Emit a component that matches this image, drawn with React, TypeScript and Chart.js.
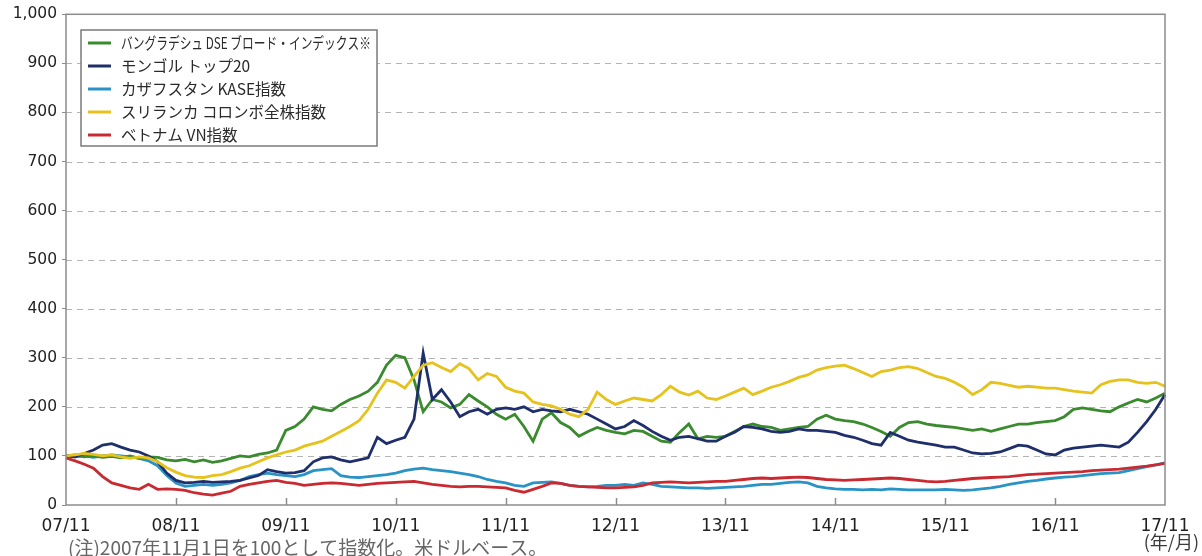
import React, { useEffect, useRef } from "react";
import { Chart, registerables } from "chart.js";

Chart.register(...registerables);

// Year tick labels (one tick every 12 months, Nov 2007 .. Nov 2017)
const yearLabels = ["07/11", "08/11", "09/11", "10/11", "11/11", "12/11", "13/11", "14/11", "15/11", "16/11", "17/11"];

// Series names
const seriesNames = [
  "バングラデシュ DSE ブロード・インデックス※",
  "モンゴル トップ20",
  "カザフスタン KASE指数",
  "スリランカ コロンボ全株指数",
  "ベトナム VN指数",
];

// Monthly index values (2007/11/01 = 100, USD basis)
const bangladesh = [
  100, 102, 98, 100, 97, 99, 96, 100, 95, 98, 97, 92,
  90, 93, 88, 92, 87, 90, 95, 100, 98, 103, 106, 112,
  152, 160, 175, 200, 195, 192, 205, 215, 222, 232, 250, 285,
  305, 300, 255, 190, 215, 210, 198, 205, 225, 212, 200, 185,
  175, 185, 160, 130, 175, 188, 168, 158, 140, 150, 158, 152,
  148, 145, 152, 150, 140, 130, 128, 148, 165, 135, 140, 138,
  140, 150, 160, 165, 160, 158, 152, 155, 158, 160, 175, 183,
  175, 172, 170, 165, 158, 150, 140, 158, 168, 170, 165, 162,
  160, 158, 155, 152, 155, 150, 155, 160, 165, 165, 168, 170,
  172, 180, 195, 198, 195, 192, 190, 200, 208, 215, 210, 218,
  228,
];
const mongolia = [
  100, 98, 105, 112, 122, 125, 118, 112, 108, 100, 88, 65,
  50, 45, 46, 48, 46, 47, 48, 50, 55, 60, 72, 68,
  65, 66, 70, 88, 96, 98, 92, 88, 92, 96, 138, 125,
  132, 138, 175, 310, 215, 235, 210, 180, 190, 195, 185, 195,
  198, 195, 200, 190, 195, 192, 190, 195, 190, 185, 175, 165,
  155, 160, 172, 162, 150, 140, 132, 138, 140, 135, 130, 130,
  140, 148, 160, 158, 155, 150, 148, 150, 155, 152, 152, 150,
  148, 142, 138, 132, 125, 122, 148, 140, 132, 128, 125, 122,
  118, 118, 112, 106, 104, 105, 108, 115, 122, 120, 112, 104,
  102, 112, 116, 118, 120, 122, 120, 118, 128, 148, 170, 195,
  225,
];
const kazakhstan = [
  100, 98, 100, 97, 100, 102, 100, 98, 95, 90, 80, 60,
  45, 38, 40, 42, 40, 42, 45, 50, 58, 62, 65, 62,
  60, 58, 62, 70, 72, 74, 60, 57, 56, 58, 60, 62,
  65, 70, 73, 75, 72, 70, 68, 65, 62, 58, 52, 48,
  45, 40, 38, 45, 46, 47, 44, 40, 38, 37, 38, 40,
  40, 42, 40, 45, 42, 38, 37, 36, 35, 35, 34, 35,
  36, 37, 38, 40, 42, 42, 44, 46, 47, 45, 38, 35,
  33, 32, 32, 31, 32, 31, 33, 32, 31, 31, 31, 31,
  32, 31, 30, 31, 33, 35, 38, 42, 45, 48, 50, 53,
  55, 57, 58, 60, 62, 64, 65, 66, 70, 74, 78, 82,
  86,
];
const sriLanka = [
  100, 102, 105, 103, 100, 102, 98, 95, 98, 96, 88, 76,
  67, 60, 57, 56, 60, 62, 68, 75, 80, 88, 96, 102,
  108, 112, 120, 125, 130, 140, 150, 160, 172, 195, 228, 255,
  250, 238, 262, 285, 290, 280, 272, 288, 278, 255, 268, 262,
  240, 232, 228, 210, 205, 202, 195, 185, 180, 195, 230, 215,
  205, 212, 218, 215, 212, 225, 242, 230, 224, 232, 218, 215,
  222, 230, 238, 225, 232, 240, 245, 252, 260, 265, 275, 280,
  283, 285, 278, 270, 262, 272, 275, 280, 282, 278, 270, 262,
  258, 250, 240, 225, 235, 250, 248, 244, 240, 242, 240, 238,
  238, 235, 232, 230, 228, 245, 252, 255, 255, 250, 248, 250,
  242,
];
const vietnam = [
  96, 90, 83, 75, 58, 45, 40, 35, 32, 42, 32, 33,
  32, 30, 25, 22, 20, 24, 28, 38, 42, 45, 48, 50,
  46, 44, 40, 42, 44, 45, 44, 42, 40, 42, 44, 45,
  46, 47, 48, 45, 42, 40, 38, 37, 38, 38, 37, 36,
  35, 30, 26, 32, 38, 45, 44, 40, 38, 37, 36, 35,
  35, 36, 37, 40, 45, 46, 47, 46, 45, 46, 47, 48,
  48, 50, 52, 54, 55, 54, 55, 56, 57, 56, 54, 52,
  51, 50, 51, 52, 53, 54, 55, 54, 52, 50, 48, 47,
  48, 50, 52, 54, 55, 56, 57, 58, 60, 62, 63, 64,
  65, 66, 67, 68, 70, 71, 72, 73, 75, 77, 79, 82,
  85,
];

const seriesColors = ["#3a8a2e", "#1f2f6b", "#2a93c6", "#e6c21c", "#c92a31"];

const noteText = "(注)2007年11月1日を100として指数化。米ドルベース。";
const unitText = "(年/月)";

// Monthly category labels derived from the year labels
const categories: string[] = [];
yearLabels.forEach((yl, i) => {
  const yy = parseInt(yl.slice(0, 2), 10);
  if (i === yearLabels.length - 1) {
    categories.push(yl);
    return;
  }
  for (let k = 0; k < 12; k++) {
    const mm = ((10 + k) % 12) + 1;
    const y2 = mm < 11 ? yy + 1 : yy;
    categories.push(`${String(y2).padStart(2, "0")}/${String(mm).padStart(2, "0")}`);
  }
});

const gridPlugin = {
  id: "gridPlugin",
  beforeDatasetsDraw(chart: any) {
    const { ctx, chartArea: a, scales } = chart;
    const ys = scales.y;
    ctx.save();
    ctx.strokeStyle = "#b4b4b4";
    ctx.lineWidth = 1;
    ctx.setLineDash([6, 5]);
    ys.ticks.forEach((t: any) => {
      if (t.value <= ys.min || t.value >= ys.max) return;
      const py = Math.round(ys.getPixelForValue(t.value)) + 0.5;
      ctx.beginPath();
      ctx.moveTo(a.left, py);
      ctx.lineTo(a.right, py);
      ctx.stroke();
    });
    ctx.restore();
  },
};

const framePlugin = {
  id: "framePlugin",
  afterDatasetsDraw(chart: any) {
    const { ctx, chartArea: a, scales } = chart;
    ctx.save();
    // plot frame
    ctx.strokeStyle = "#8c8c8c";
    ctx.lineWidth = 1.5;
    ctx.setLineDash([]);
    ctx.strokeRect(a.left, a.top, a.right - a.left, a.bottom - a.top);
    // inner tick marks at each year
    const xs = scales.x;
    yearLabels.forEach((_, i) => {
      if (i === 0 || i === yearLabels.length - 1) return;
      const px = Math.round(xs.getPixelForValue(i * 12)) + 0.5;
      ctx.beginPath();
      ctx.moveTo(px, a.bottom);
      ctx.lineTo(px, a.bottom - 7);
      ctx.stroke();
    });

    // legend box
    const bx = 81, by = 30, bw = 296, bh = 116;
    ctx.fillStyle = "#ffffff";
    ctx.fillRect(bx, by, bw, bh);
    ctx.strokeStyle = "#7a7a7a";
    ctx.lineWidth = 1.5;
    ctx.strokeRect(bx, by, bw, bh);
    ctx.font = "15.5px 'Noto Sans CJK JP', sans-serif";
    ctx.textBaseline = "middle";
    ctx.textAlign = "left";
    seriesNames.forEach((name, i) => {
      const ly = 43 + i * 23;
      ctx.strokeStyle = seriesColors[i];
      ctx.lineWidth = 3;
      ctx.beginPath();
      ctx.moveTo(88, ly);
      ctx.lineTo(111, ly);
      ctx.stroke();
      ctx.fillStyle = "#2a2a2a";
      ctx.fillText(name, 121, ly, 250);
    });

    // unit and note
    ctx.fillStyle = "#3a3a3a";
    ctx.font = "18px 'Noto Sans CJK JP', sans-serif";
    ctx.textAlign = "right";
    ctx.textBaseline = "middle";
    ctx.fillText(unitText, 1199, 542);
    ctx.fillStyle = "#666666";
    ctx.textAlign = "left";
    ctx.textBaseline = "top";
    ctx.font = "19px 'Noto Sans CJK JP', sans-serif";
    ctx.fillText(noteText, 68, 538);
    ctx.restore();
  },
};

export default function App() {
  const canvasRef = useRef<HTMLCanvasElement | null>(null);

  useEffect(() => {
    document.body.style.margin = "0";
    const canvas = canvasRef.current;
    if (!canvas) return;
    const data = [bangladesh, mongolia, kazakhstan, sriLanka, vietnam];
    const drawOrder = [4, 3, 5, 2, 1];
    const chart = new Chart(canvas, {
      type: "line",
      data: {
        labels: categories,
        datasets: data.map((d, i) => ({
          label: seriesNames[i],
          data: d,
          borderColor: seriesColors[i],
          backgroundColor: seriesColors[i],
          borderWidth: 2.8,
          pointRadius: 0,
          tension: 0,
          fill: false,
          order: drawOrder[i],
        })),
      },
      options: {
        animation: false,
        responsive: false,
        devicePixelRatio: 1,
        layout: { padding: { top: 14, right: 37, left: 0, bottom: 0 } },
        plugins: {
          legend: { display: false },
          tooltip: { enabled: false },
          title: { display: false },
        },
        scales: {
          x: {
            type: "category",
            offset: false,
            grid: { display: false, drawTicks: false },
            border: { display: false },
            ticks: {
              autoSkip: false,
              maxRotation: 0,
              minRotation: 0,
              padding: 11,
              color: "#222222",
              font: { family: "'DejaVu Sans', sans-serif", size: 17 },
              callback: (_v: any, idx: number) => (idx % 12 === 0 ? yearLabels[idx / 12] : ""),
            },
            afterFit: (scale: any) => {
              scale.height = 51;
            },
          },
          y: {
            min: 0,
            max: 1000,
            grid: {
              display: true,
              drawOnChartArea: false,
              drawTicks: true,
              tickLength: 4,
              tickColor: "#8c8c8c",
            },
            border: { display: false },
            ticks: {
              stepSize: 100,
              padding: 5,
              color: "#222222",
              font: { family: "'DejaVu Sans', sans-serif", size: 15.5 },
              callback: (v: any) => Number(v).toLocaleString("en-US"),
            },
            afterFit: (scale: any) => {
              scale.width = 66;
            },
          },
        },
      },
      plugins: [gridPlugin, framePlugin],
    });
    return () => chart.destroy();
  }, []);

  return (
    <div style={{ position: "absolute", left: 0, top: 0, width: 1202, height: 556, background: "#ffffff", overflow: "hidden" }}>
      <canvas ref={canvasRef} width={1202} height={556} style={{ display: "block" }} />
    </div>
  );
}
